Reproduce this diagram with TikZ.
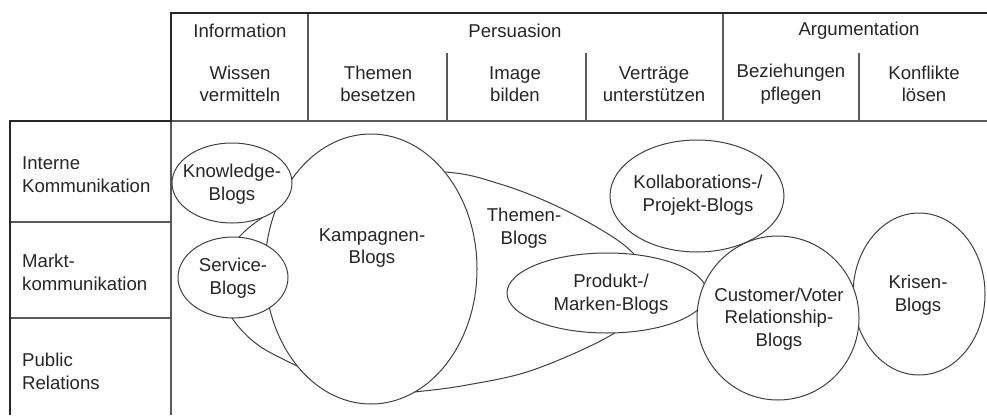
\documentclass[tikz,border=0pt]{standalone}
\usepackage{fontspec}
\setmainfont{Liberation Sans}
\usetikzlibrary{shapes.geometric}
\begin{document}
\begin{tikzpicture}[x=1pt,y=-1pt,
  thickline/.style={line width=2.2pt, draw=black!85},
  gridline/.style={line width=1.2pt, draw=black!65},
  blob/.style={ellipse, draw=black!75, line width=1pt, fill=white, inner sep=0pt},
  lbl/.style={align=center, font=\fontsize{18.6}{22.5}\selectfont, text=black!85, inner sep=0pt},
  rowlbl/.style={align=left, anchor=west, font=\fontsize{18.6}{23}\selectfont, text=black!85, inner sep=0pt}
]
\useasboundingbox (0,0) rectangle (987,415);

% header grid
\draw[gridline] (171,121) -- (987,121);
\draw[gridline] (171,121) -- (171,415);
\draw[gridline] (308,13) -- (308,121);
\draw[gridline] (723,13) -- (723,121);
\draw[gridline] (447,53) -- (447,121);
\draw[gridline] (586,53) -- (586,121);
\draw[gridline] (859,53) -- (859,121);
\draw[gridline] (10,222) -- (171,222);
\draw[gridline] (10,318) -- (171,318);
% thick outer border
\draw[thickline] (987,13) -- (171,13) -- (171,121) -- (10,121) -- (10,415);

% header texts
\node[lbl] (hinfo) at (240,31) {Information};
\node[lbl] (hpers) at (515,31) {Persuasion};
\node[lbl] (harg) at (859,31) {Argumentation};
\node[lbl] (cwis) at (240,84) {Wissen\\vermitteln};
\node[lbl] (cthe) at (378,84) {Themen\\besetzen};
\node[lbl] (cima) at (515,84) {Image\\bilden};
\node[lbl] (cver) at (654,84) {Verträge\\unterstützen};
\node[lbl] (cbez) at (791,84) {Beziehungen\\pflegen};
\node[lbl] (ckon) at (924,84) {Konflikte\\lösen};

% row texts
\node[rowlbl] (rint) at (22,175) {Interne\\Kommunikation};
\node[rowlbl] (rmar) at (22,272) {Markt-\\kommunikation};
\node[rowlbl] (rpub) at (22,371) {Public\\Relations};

% Themen-Blogs shape (background)
\draw[black!75, line width=1pt, fill=white]
  plot[smooth cycle, tension=0.55] coordinates {
    (330,172) (445,172) (500,184) (550,203) (600,229) (633,253)
    (662,292) (613,334) (533,370) (467,385) (414,392) (360,396)
    (299,367) (258,345) (232,318) (212,277) (240,236) (276,208)};
\node[lbl] (tthe) at (524,228) {Themen-\\Blogs};

% ellipses
\node[blob, minimum width=212pt, minimum height=270pt] (kamp) at (371,269) {};
\node[lbl] (tkamp) at (372,248) {Kampagnen-\\Blogs};
\node[blob, minimum width=120pt, minimum height=80pt] (know) at (232,183) {};
\node[lbl] (tknow) at (232,184) {Knowledge-\\Blogs};
\node[blob, minimum width=110pt, minimum height=81pt] (serv) at (233,277.5) {};
\node[lbl] (tserv) at (233,278) {Service-\\Blogs};
\node[blob, minimum width=200pt, minimum height=80pt] (prod) at (607,293) {};
\node[lbl] (tprod) at (611,294) {Produkt-/\\Marken-Blogs};
\node[blob, minimum width=174pt, minimum height=112pt] (koll) at (697,196) {};
\node[lbl] (tkoll) at (698,195) {Kollaborations-/\\Projekt-Blogs};
\node[blob, minimum width=132pt, minimum height=162pt] (kris) at (919,294) {};
\node[lbl] (tkris) at (918,295) {Krisen-\\Blogs};
\node[blob, minimum width=162pt, minimum height=164pt] (cust) at (778,318) {};
\node[lbl] (tcust) at (779,319) {Customer/Voter\\Relationship-\\Blogs};
\end{tikzpicture}
\end{document}
